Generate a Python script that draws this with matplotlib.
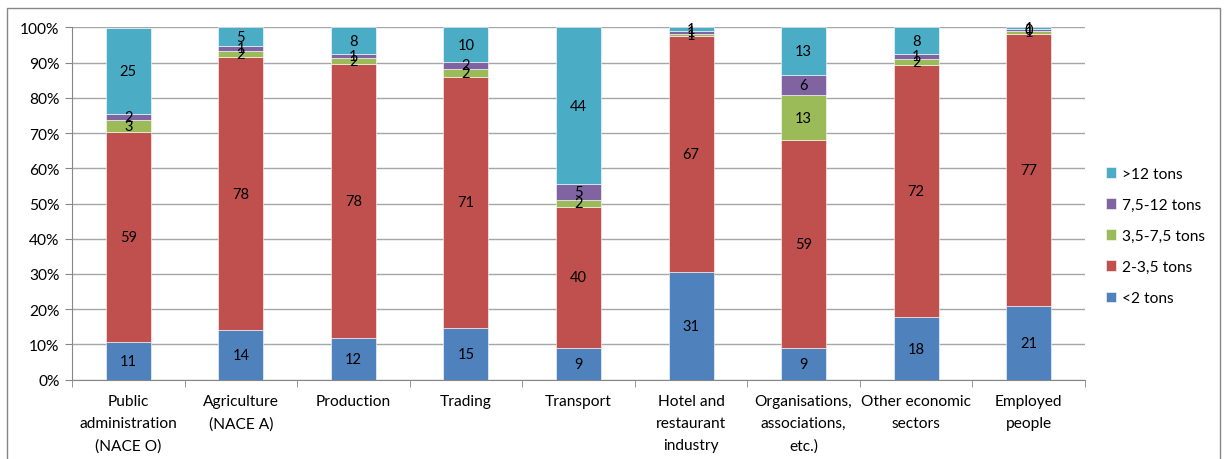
import matplotlib
matplotlib.use("Agg")
import matplotlib.pyplot as plt
import numpy as np
from matplotlib.patches import Rectangle

categories = ["Public\nadministration\n(NACE O)", "Agriculture\n(NACE A)", "Production", "Trading",
              "Transport", "Hotel and\nrestaurant\nindustry", "Organisations,\nassociations,\netc.)",
              "Other economic\nsectors", "Employed\npeople"]
series_names = ["<2 tons", "2-3,5 tons", "3,5-7,5 tons", "7,5-12 tons", ">12 tons"]
lt2 = [10.8, 14.0, 11.7, 14.7, 9.1, 30.6, 9.0, 17.7, 20.8]
t2_35 = [59.4, 77.6, 77.8, 71.3, 39.9, 66.8, 59.0, 71.6, 77.4]
t35_75 = [3.4, 1.8, 1.7, 2.3, 2.0, 0.8, 12.8, 1.8, 0.8]
t75_12 = [1.7, 1.3, 1.3, 1.9, 4.6, 0.7, 5.8, 1.3, 0.4]
gt12 = [24.6, 5.3, 7.5, 9.8, 44.4, 1.1, 13.4, 7.6, 0.6]
colors = ["#4F81BD", "#C0504D", "#9BBB59", "#8064A2", "#4BACC6"]

plt.rcParams['font.family'] = ['Lato', 'DejaVu Sans']
fs = 10.5
fsx = 11.2

W, H = 1227, 460
fig = plt.figure(figsize=(W/100, H/100), dpi=100)
ax = fig.add_axes([72/W, 1-380.7/H, (1085-72)/W, (380.7-28.3)/H])

data = [lt2, t2_35, t35_75, t75_12, gt12]
x = np.arange(len(categories))
bottom = np.zeros(len(categories))
handles = []
for vals, name, c in zip(data, series_names, colors):
    v = np.array(vals)
    b = ax.bar(x, v, 0.4, bottom=bottom, color=c, edgecolor="white", linewidth=0.4, label=name, zorder=3)
    handles.append(b)
    for xi, yi, bi in zip(x, v, bottom):
        ax.text(xi, bi + yi/2, "%.0f" % yi, ha="center", va="center", fontsize=fs, color="black", zorder=4)
    bottom += v

ax.set_xlim(-0.5, len(categories)-0.5)
ax.set_ylim(0, 100)
ax.set_yticks(np.arange(0, 101, 10))
ax.set_yticklabels(["%d%%" % t for t in range(0, 101, 10)], fontsize=fsx)
ax.yaxis.grid(True, color="#A6A6A6", linewidth=1.0, zorder=0)
ax.set_xticks(x)
ax.set_xticklabels(categories, fontsize=fsx, linespacing=1.75)
ax.set_xticks(np.arange(-0.5, len(categories), 1), minor=True)
ax.tick_params(axis="x", which="major", length=0, pad=10)
ax.tick_params(axis="x", which="minor", length=5, color="#868686")
ax.tick_params(axis="y", length=5, color="#868686", pad=4)
for s in ["top", "right"]:
    ax.spines[s].set_visible(False)
for s in ["left", "bottom"]:
    ax.spines[s].set_color("#868686")

leg = fig.legend(handles[::-1], series_names[::-1], loc="center left",
                 bbox_to_anchor=(1092/W, 1-237/H), frameon=False, fontsize=fsx,
                 handlelength=0.65, handleheight=0.65, handletextpad=0.4, labelspacing=1.1)

fig.patches.append(Rectangle((7/W, -0.05), (1220-7)/W, 1.05-9/H, transform=fig.transFigure,
                             fill=False, edgecolor="#868686", linewidth=1))

fig.savefig("out.png", dpi=100)
